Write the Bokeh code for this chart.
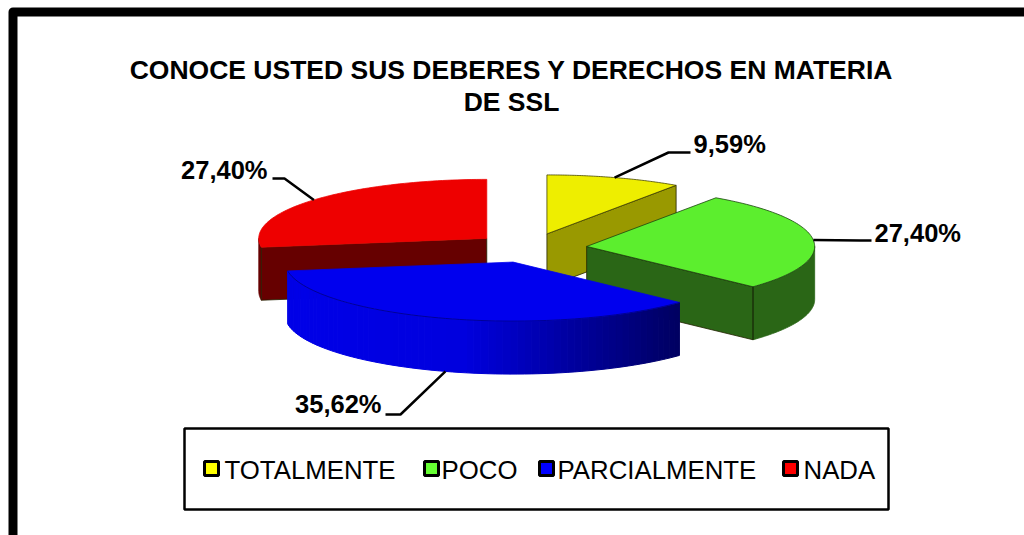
import numpy as np
from bokeh.plotting import figure
from bokeh.models import Range1d
from bokeh.core.properties import value
from bokeh.embed import file_html
from bokeh.resources import INLINE

title_lines = ["CONOCE USTED SUS DEBERES Y DERECHOS EN MATERIA", "DE SSL"]
categories = ["TOTALMENTE", "POCO", "PARCIALMENTE", "NADA"]
shares = [9.59, 27.40, 35.62, 27.40]
share_labels = ["9,59%", "27,40%", "35,62%", "27,40%"]
legend_colors = ["#ffff00", "#66ff33", "#0000ff", "#ff0000"]
top_colors = ["#eeee00", "#5cee2e", "#0000ee", "#ee0000"]
side_colors = ["#999900", "#2a6616", "#0000b0", "#660000"]

CX, CY, A, B, DEPTH, EXPLODE = 529.5, 247.5, 228, 59, 53, 0.25
FONT = value("Liberation Sans")

p = figure(width=1024, height=535, output_backend="svg", toolbar_location=None,
           x_range=Range1d(0, 1024), y_range=Range1d(535, 0),
           x_axis_location=None, y_axis_location=None, min_border=0,
           outline_line_color=None, background_fill_color="white")
p.grid.visible = False

# outer frame: only the top and left edges are in view
p.line([12.5, 12.5, 1024], [535, 11.5, 11.5], line_color="black", line_width=9, line_join="round")

vals = np.array(shares, dtype=float)
fracs = vals / vals.sum()
ends = np.cumsum(fracs) * 2 * np.pi
starts = ends - fracs * 2 * np.pi
mids = (starts + ends) / 2
apex_x = CX + EXPLODE * A * np.sin(mids)
apex_y = CY - EXPLODE * B * np.cos(mids)


def ring(i, t):
    return apex_x[i] + A * np.sin(t), apex_y[i] - B * np.cos(t)


def wall_inner(i, t):
    ex, ey = ring(i, t)
    ax, ay = apex_x[i], apex_y[i]
    p.patch([ax, ex, ex, ax], [ay, ey, ey + DEPTH, ay + DEPTH],
            fill_color=side_colors[i], line_color="#222200", line_width=0.8)


def wall_outer(i, t0, t1):
    t = np.linspace(t0, t1, 40)
    x, y = ring(i, t)
    p.patch(np.r_[x, x[::-1]], np.r_[y, y[::-1] + DEPTH],
            fill_color=side_colors[i], line_color=side_colors[i], line_width=0.8)


def top(i, edge):
    t = np.linspace(starts[i], ends[i], 80)
    x, y = ring(i, t)
    p.patch(np.r_[apex_x[i], x], np.r_[apex_y[i], y],
            fill_color=top_colors[i], line_color=edge, line_width=0.8)


# slices back to front: red, yellow, green, blue
wall_outer(3, starts[3], 1.5 * np.pi)
wall_inner(3, starts[3])
top(3, top_colors[3])

wall_inner(0, ends[0])
top(0, "#444400")

wall_outer(1, np.pi / 2, ends[1])
wall_inner(1, ends[1])
top(1, "#1c4410")
ex, ey = ring(1, ends[1])
p.line([ex, ex], [ey, ey + DEPTH], line_color="#16330c", line_width=1)

# blue outer wall with its left-to-right shading
n = 70
tb = np.linspace(starts[2], ends[2], n + 1)
xs, ys, cols = [], [], []
xb, yb = ring(2, tb)
xmin, xmax = xb.min(), xb.max()
for k in range(n):
    x0, x1 = xb[k], xb[k + 1]
    y0, y1 = yb[k], yb[k + 1]
    f = (0.5 * (x0 + x1) - xmin) / (xmax - xmin)
    lv = 232 - 22 * f if f < 0.45 else 222 - (f - 0.45) / 0.55 * 125
    c = "#0000%02x" % int(lv)
    xs.append([x0, x1, x1, x0])
    ys.append([y0, y1, y1 + DEPTH, y0 + DEPTH])
    cols.append(c)
p.patches(xs, ys, fill_color=cols, line_color=cols, line_width=1)
top(2, "#0000ee")
p.line(xb, yb, line_color="#000080", line_width=0.8)

# data labels with leader lines
elbows = [[(668, 152), (690, 152)], [(860, 240), (871, 240)],
          [(400, 414), (385, 414)], [(284, 178), (272, 178)]]
label_pos = [(693, 143, "left"), (874, 232, "left"), (381, 403, "right"), (267, 169, "right")]
for i in range(4):
    ax, ay = ring(i, mids[i])
    if i == 2:
        ay += DEPTH
    pts = [(ax, ay)] + elbows[i]
    p.line([q[0] for q in pts], [q[1] for q in pts], line_color="black", line_width=2.5)
    lx, ly, al = label_pos[i]
    p.text([lx], [ly], text=[share_labels[i]], text_font=FONT, text_font_style="bold",
           text_font_size="25.5px", text_align=al, text_baseline="middle", text_color="black")

# title
for ty, line in zip([69, 101], title_lines):
    p.text([511], [ty], text=[line], text_font=FONT, text_font_style="bold",
           text_font_size="26.5px", text_align="center", text_baseline="middle", text_color="black")

# legend
p.quad(left=[184], right=[888], top=[428], bottom=[509], fill_color="white",
       line_color="black", line_width=2.5)
swatch_x = [211, 431, 546, 790]
text_x = [224, 441, 557, 803]
for i in range(4):
    p.quad(left=[swatch_x[i] - 7], right=[swatch_x[i] + 7], top=[461], bottom=[475],
           fill_color=legend_colors[i], line_color="black", line_width=3)
    p.text([text_x[i]], [469], text=[categories[i]], text_font=FONT, text_font_size="25.8px",
           text_align="left", text_baseline="middle", text_color="black")

open("out.html", "w").write(file_html(p, INLINE))
